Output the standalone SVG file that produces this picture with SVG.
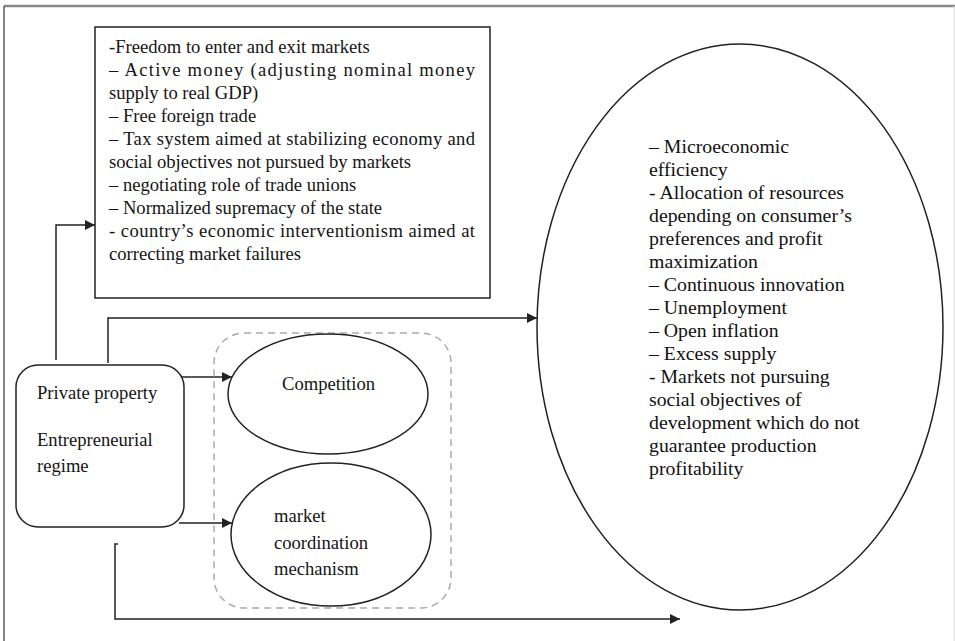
<svg xmlns="http://www.w3.org/2000/svg" width="955" height="641" viewBox="0 0 955 641" font-family="'Liberation Serif', 'Times New Roman', serif">
<style>
text{font-family:'Liberation Serif','Times New Roman',serif;font-size:18.6px;fill:#151515}
.rt{font-size:19.8px;fill:#111}
.shape{fill:#fff;stroke:#222;stroke-width:1.5}
.con{fill:none;stroke:#222;stroke-width:1.5}
</style>
<defs>
<marker id="arr" viewBox="0 0 10 10" refX="10" refY="5" markerWidth="10" markerHeight="10" markerUnits="userSpaceOnUse" orient="auto">
<path d="M0,0 L10,5 L0,10 z" fill="#222"/>
</marker>
</defs>
<rect x="0" y="0" width="955" height="641" fill="#fff"/>
<g id="frame">
<line x1="4" y1="6" x2="955" y2="6" stroke="#888" stroke-width="2.5"/>
<line x1="4" y1="6" x2="4" y2="641" stroke="#333" stroke-width="1.2"/>
<line x1="954" y1="6" x2="954" y2="641" stroke="#ddd" stroke-width="1"/>
</g>
<g id="connectors">
<polyline class="con" points="56,360 56,225 95,225" marker-end="url(#arr)"/>
<polyline class="con" points="108,363 108,318 537,318" marker-end="url(#arr)"/>
<line class="con" x1="182" y1="377" x2="232" y2="377" marker-end="url(#arr)"/>
<line class="con" x1="179" y1="523" x2="232" y2="523" marker-end="url(#arr)"/>
<polyline class="con" points="118,544 115,544 115,619 680,619" marker-end="url(#arr)"/>
</g>
<g id="group-dashed">
<rect x="214" y="333" width="237" height="275" rx="30" ry="30" fill="none" stroke="#aaa" stroke-width="1.5" stroke-dasharray="7,5"/>
</g>
<g id="policies">
<rect class="shape" x="95" y="27" width="395" height="271"/>
<text x="109" y="53">-Freedom to enter and exit markets</text>
<text x="109" y="76" textLength="366" lengthAdjust="spacing">– Active money (adjusting nominal money</text>
<text x="109" y="99">supply to real GDP)</text>
<text x="109" y="122">– Free foreign trade</text>
<text x="109" y="145" textLength="366" lengthAdjust="spacing">– Tax system aimed at stabilizing economy and</text>
<text x="109" y="168">social objectives not pursued by markets</text>
<text x="109" y="191">– negotiating role of trade unions</text>
<text x="109" y="214">– Normalized supremacy of the state</text>
<text x="109" y="237" textLength="366" lengthAdjust="spacing">- country’s economic interventionism aimed at</text>
<text x="109" y="260">correcting market failures</text>
</g>
<g id="property">
<rect class="shape" x="16" y="365" width="168" height="162" rx="22" ry="22"/>
<text x="37" y="399">Private property</text>
<text x="37" y="446">Entrepreneurial</text>
<text x="37" y="472">regime</text>
</g>
<g id="competition">
<ellipse class="shape" cx="328" cy="394" rx="100" ry="60"/>
<text x="282" y="390">Competition</text>
</g>
<g id="coordination">
<ellipse class="shape" cx="331" cy="534.5" rx="100" ry="71.5"/>
<text x="274" y="522">market</text>
<text x="274" y="549">coordination</text>
<text x="274" y="575">mechanism</text>
</g>
<g id="outcomes">
<ellipse class="shape" cx="740" cy="327" rx="203" ry="283"/>
<text class="rt" x="649" y="153">– Microeconomic</text>
<text class="rt" x="649" y="176">efficiency</text>
<text class="rt" x="649" y="199">- Allocation of resources</text>
<text class="rt" x="649" y="222">depending on consumer’s</text>
<text class="rt" x="649" y="245">preferences and profit</text>
<text class="rt" x="649" y="268">maximization</text>
<text class="rt" x="649" y="291">– Continuous innovation</text>
<text class="rt" x="649" y="314">– Unemployment</text>
<text class="rt" x="649" y="337">– Open inflation</text>
<text class="rt" x="649" y="360">– Excess supply</text>
<text class="rt" x="649" y="383">- Markets not pursuing</text>
<text class="rt" x="649" y="406">social objectives of</text>
<text class="rt" x="649" y="429">development which do not</text>
<text class="rt" x="649" y="452">guarantee production</text>
<text class="rt" x="649" y="475">profitability</text>
</g>
</svg>
